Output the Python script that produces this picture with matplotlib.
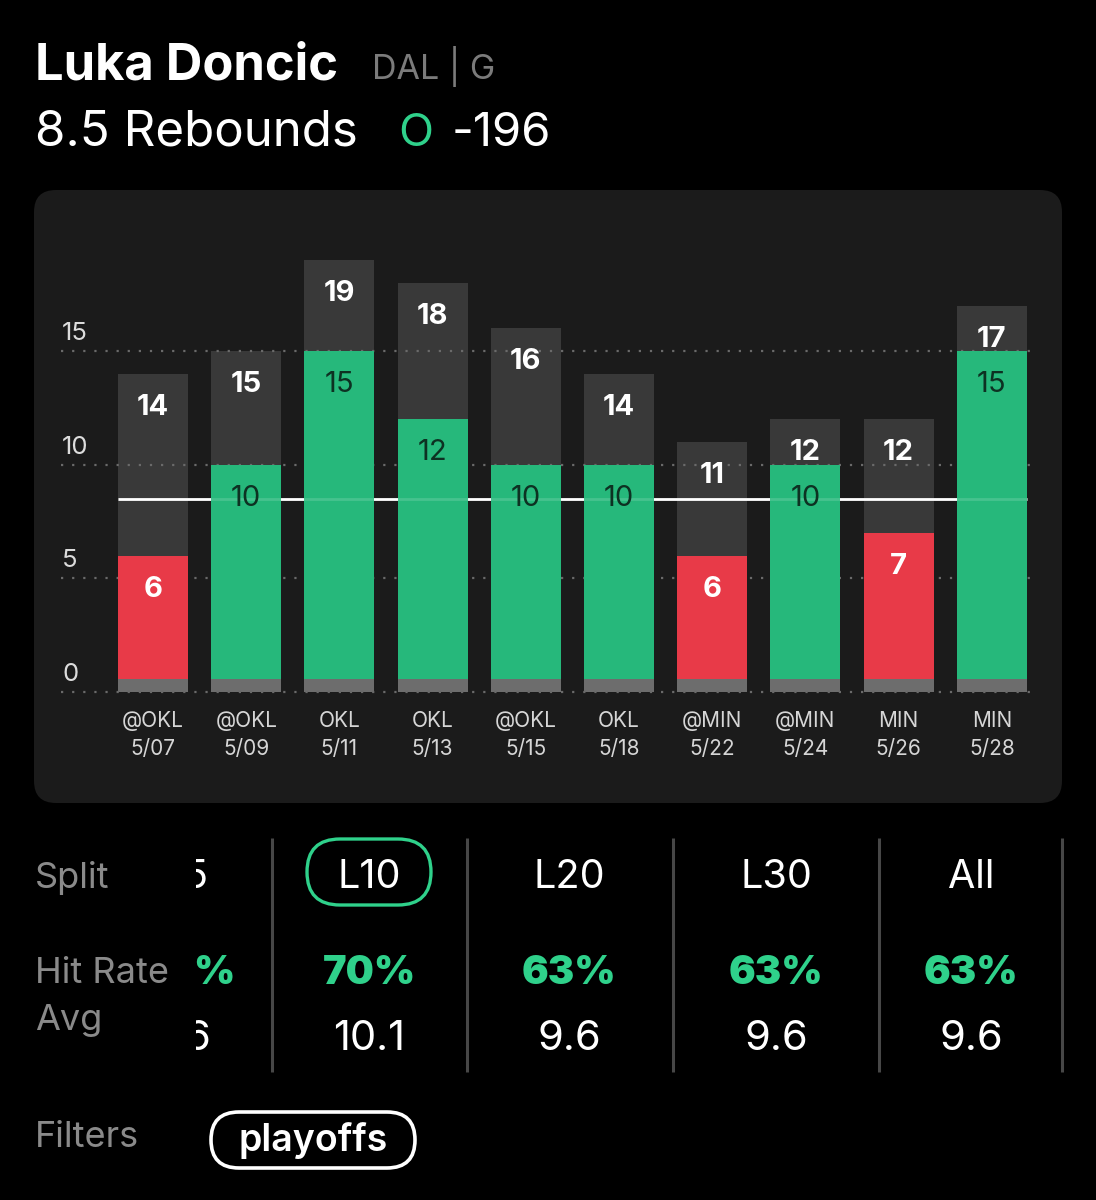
import matplotlib
matplotlib.use("Agg")
import matplotlib.pyplot as plt
from matplotlib.patches import FancyBboxPatch
from matplotlib.transforms import Bbox
import numpy as np

plt.rcParams['font.family'] = ['Inter', 'DejaVu Sans']

# ---------------- data ----------------
player = "Luka Doncic"
team_pos = "DAL | G"
prop_line = 8.5
prop_label = "8.5 Rebounds"
side_mark = "O"
odds = "-196"

opponents = ["@OKL", "@OKL", "OKL", "OKL", "@OKL", "OKL", "@MIN", "@MIN", "MIN", "MIN"]
dates = ["5/07", "5/09", "5/11", "5/13", "5/15", "5/18", "5/22", "5/24", "5/26", "5/28"]
rebounds = [6, 10, 15, 12, 10, 10, 6, 10, 7, 15]
chances = [14, 15, 19, 18, 16, 14, 11, 12, 12, 17]
y_ticks = [0, 5, 10, 15]

splits = ["L5", "L10", "L20", "L30", "All"]
hit_rates = ["60%", "70%", "63%", "63%", "63%"]
averages = ["9.6", "10.1", "9.6", "9.6", "9.6"]
selected_split = "L10"
row_labels = ["Split", "Hit Rate", "Avg"]
filter_label = "Filters"
filters = ["playoffs"]

# ---------------- style ----------------
BG = "#000000"
PANEL = "#1b1b1b"
GRAYBAR = "#393939"
GREEN = "#26b87b"
RED = "#e83a48"
STRIP = "#6d6d6d"
MINT = "#2fd18b"
LABEL_GRAY = "#8a8a8a"

W, H = 1096, 1200
fig = plt.figure(figsize=(W / 100, H / 100), dpi=100, facecolor=BG)

bg = fig.add_axes([0, 0, 1, 1], zorder=0)
bg.set_xlim(0, W)
bg.set_ylim(H, 0)
bg.axis("off")

# panel
bg.add_patch(FancyBboxPatch((34, 190), 1028, 613,
                            boxstyle="round,pad=0,rounding_size=22",
                            fc=PANEL, ec="none"))

# header
bg.text(35, 79, player, fontsize=36.5, weight="bold", color="white", va="baseline")
bg.text(372, 79, team_pos, fontsize=24.5, color="#7b7b7b", va="baseline")
bg.text(35, 146, prop_label, fontsize=35.5, color="white", va="baseline")
bg.text(398, 146, side_mark, fontsize=33, color=MINT, va="baseline")
bg.text(452, 146, odds, fontsize=34, color="white", va="baseline")

# ---------------- chart ----------------
px_per_unit = (692 - 351) / 15
step_px = 93.2
ax = fig.add_axes([61 / W, (H - 692) / H, (1035 - 61) / W, (692 - 200) / H], zorder=1)
ax.set_facecolor("none")
ax.set_xlim(-(153 - 61) / step_px, -(153 - 61) / step_px + (1035 - 61) / step_px)
ax.set_ylim(0, (692 - 200) / px_per_unit)
for s in ax.spines.values():
    s.set_visible(False)

x = np.arange(len(dates))
w = 0.75

ax.bar(x, chances, w, color=GRAYBAR, zorder=1)
for v in y_ticks:
    ax.axhline(v, color="#6a6a6a", lw=1.6, ls=(0, (1, 4)), zorder=2 if v else 7, clip_on=False)
    ax.annotate(str(v), (0, v), xycoords=("axes fraction", "data"), xytext=(1, 11),
                textcoords="offset pixels", ha="left", va="baseline",
                fontsize=18.5, color="#dcdcdc")

ax.hlines(prop_line, x[0] - w / 2, x[-1] + w / 2, color="white", lw=2.0, zorder=3)
cols = [GREEN if r > prop_line else RED for r in rebounds]
ax.bar(x, rebounds, w, color=cols, zorder=4)
ax.hlines(prop_line, x[0] - w / 2, x[-1] + w / 2, color="white", lw=2.0, alpha=0.15, zorder=5)
ax.bar(x, [0.55] * len(x), w, color=STRIP, zorder=6)

for xi, c in zip(x, chances):
    ax.annotate(str(c), (xi, c), xytext=(0, -41), textcoords="offset pixels",
                ha="center", va="baseline", fontsize=21, weight="bold",
                color="white", zorder=8)
for xi, r in zip(x, rebounds):
    hit = r > prop_line
    ax.annotate(str(r), (xi, r), xytext=(0, -41), textcoords="offset pixels",
                ha="center", va="baseline", fontsize=21,
                weight="normal" if hit else "bold",
                color="#0d3122" if hit else "white", zorder=8)

ax.set_xticks(x, [f"{o}\n{d}" for o, d in zip(opponents, dates)])
ax.tick_params(axis="x", length=0, pad=14, labelsize=15, labelcolor="#d6d6d6")
for t in ax.get_xticklabels():
    t.set_linespacing(1.45)
ax.set_yticks([])

# ---------------- split table ----------------
row_y = [888, 983, 1030]
for lbl, yy in zip(row_labels, row_y):
    bg.text(35, yy, lbl, fontsize=26, color=LABEL_GRAY, va="baseline")
bg.text(35, 1147, filter_label, fontsize=26, color=LABEL_GRAY, va="baseline")

col_centers = [180, 369, 569, 776, 971]
for sx in [272, 467, 673, 879, 1062]:
    bg.plot([sx, sx], [838, 1072], color="#474747", lw=2.2, solid_capstyle="butt")

# first column is scrolled partly out of view: only the trailing glyphs show
clip = Bbox.from_extents(196, H - 1080, 272, H - 830)
right_edges = [208, 234, 210]
for i, (sp, hr, av) in enumerate(zip(splits, hit_rates, averages)):
    cx = col_centers[i]
    if i == 0:
        ts = [bg.text(right_edges[0], 888, sp[-1:], fontsize=28.5, color="white", ha="right", va="baseline"),
              bg.text(right_edges[1], 984, hr[-1:], fontsize=28.5, weight="black", color=MINT, ha="right", va="baseline"),
              bg.text(right_edges[2], 1050, av[-1:], fontsize=30, color="white", ha="right", va="baseline")]
        for t in ts:
            t.set_clip_on(True)
            t.set_clip_path(None)
            t.set_clip_box(clip)
        continue
    bg.text(cx, 888, sp, fontsize=28.5, color="white", ha="center", va="baseline")
    bg.text(cx, 984, hr, fontsize=28.5, weight="black", color=MINT, ha="center", va="baseline")
    bg.text(cx, 1050, av, fontsize=30, color="white", ha="center", va="baseline")
    if sp == selected_split:
        bg.add_patch(FancyBboxPatch((cx - 62, 839), 124, 66,
                                    boxstyle="round,pad=0,rounding_size=33",
                                    fc="none", ec=MINT, lw=2.4))

for f in filters:
    bg.text(313, 1151, f, fontsize=27, weight="semibold", color="white", ha="center", va="baseline")
    bg.add_patch(FancyBboxPatch((211, 1112), 204, 56,
                                boxstyle="round,pad=0,rounding_size=28",
                                fc="none", ec="white", lw=2.6))

fig.savefig("out.png", dpi=100, facecolor=BG)
